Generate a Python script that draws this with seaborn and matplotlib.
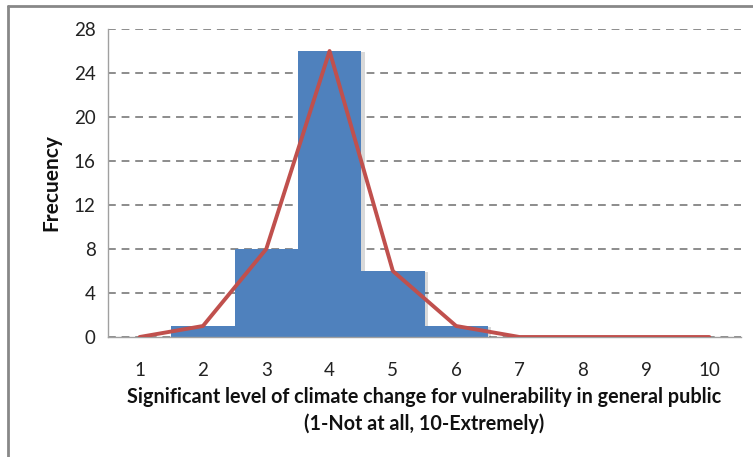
import matplotlib
matplotlib.use("Agg")
import matplotlib.pyplot as plt
import matplotlib.patheffects as pe
from matplotlib.lines import Line2D
import seaborn as sns
import pandas as pd

categories = ["1", "2", "3", "4", "5", "6", "7", "8", "9", "10"]
frequency = [0, 1, 8, 26, 6, 1, 0, 0, 0, 0]
y_ticks = [0, 4, 8, 12, 16, 20, 24, 28]
x_label = "Significant level of climate change for vulnerability in general public\n(1-Not at all, 10-Extremely)"
y_label = "Frecuency"

df = pd.DataFrame({"level": categories, "freq": frequency})

sns.set_theme(style="white")
plt.rcParams["font.family"] = ["Lato", "DejaVu Sans"]

fig = plt.figure(figsize=(7.53, 4.57), dpi=100)
ax = fig.add_axes([108/753, 1-337/457, (741-108)/753, (337-29)/457])

BLUE = "#4F81BD"
RED = "#C0504D"
GRAY = "#8C8C8C"

sns.barplot(data=df, x="level", y="freq", order=categories, color=BLUE,
            saturation=1, width=1.0, ax=ax, zorder=2)
for p in ax.patches:
    p.set_edgecolor("none")
    p.set_path_effects([pe.SimplePatchShadow(offset=(2.5, -1), shadow_rgbFace="#000000", alpha=0.15), pe.Normal()])

sns.lineplot(data=df, x="level", y="freq", sort=False, color=RED, lw=2.8,
             ax=ax, zorder=3)

ax.set_xlim(-0.5, 9.5)
ax.set_ylim(0, 28)
ax.set_yticks(y_ticks)
ax.set_yticklabels([str(v) for v in y_ticks], fontsize=13.5, color="#222222")
ax.set_xticks(range(len(categories)))
ax.set_xticklabels(categories, fontsize=13.5, color="#222222")

# grid
ax.yaxis.grid(True, color=GRAY, lw=1.4, ls=(0, (4, 3)), zorder=0)
ax.xaxis.grid(False)
ax.set_axisbelow(True)

for s in ["top", "right"]:
    ax.spines[s].set_visible(False)
for s in ["left", "bottom"]:
    ax.spines[s].set_color("#A0A0A0")
    ax.spines[s].set_linewidth(1.0)

ax.tick_params(axis="y", which="major", length=5, width=1, color="#A0A0A0", direction="out", pad=4)
ax.tick_params(axis="x", which="major", length=0, pad=18)
ax.set_xticks([i - 0.5 for i in range(len(categories) + 1)], minor=True)
ax.tick_params(axis="x", which="minor", length=7, width=1, color="#A0A0A0", direction="out")

ax.set_xlabel(x_label, fontsize=14.2, fontweight="bold", color="#111111", labelpad=6, linespacing=1.35)
ax.set_ylabel(y_label, fontsize=15, fontweight="bold", color="#111111", labelpad=9)

# outer frame (cropped at right and bottom)
fig.add_artist(Line2D([8/753, 1.0], [1-6/457, 1-6/457], transform=fig.transFigure, color="#888888", lw=2))
fig.add_artist(Line2D([8/753, 8/753], [0.0, 1-6/457], transform=fig.transFigure, color="#888888", lw=2))

fig.savefig("out.png", dpi=100)
